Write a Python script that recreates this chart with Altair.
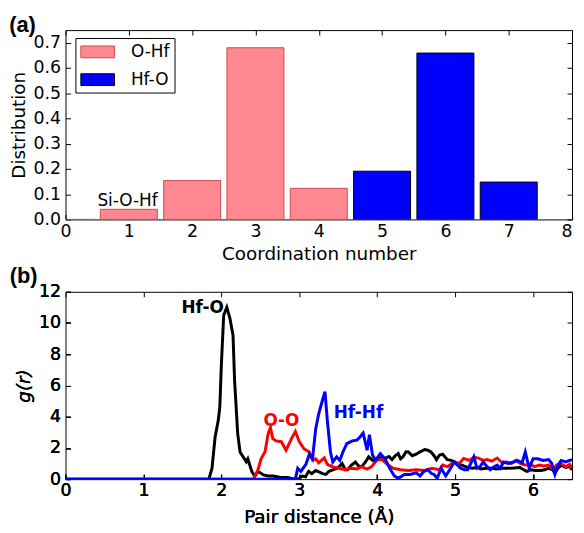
import altair as alt
import pandas as pd

# ---------------- Panel (a): coordination number distribution ----------------
coord_n = [0, 1, 2, 3, 4, 5, 6, 7]
coord_frac = [0.0, 0.040, 0.154, 0.680, 0.123, 0.191, 0.659, 0.148]
coord_type = ["O-Hf", "O-Hf", "O-Hf", "O-Hf", "O-Hf", "Hf-O", "Hf-O", "Hf-O"]
x_ticks_a = [0, 1, 2, 3, 4, 5, 6, 7, 8]
y_ticks_a = [0.0, 0.1, 0.2, 0.3, 0.4, 0.5, 0.6, 0.7]

note_a_text = ["Si-O-Hf"]
note_a_x = [0.98]
note_a_y = [0.074]

# ---------------- Panel (b): pair distribution functions ----------------
hfo_r = [0.0, 1.80, 1.84, 1.88, 1.92, 1.96, 1.98, 2.00, 2.03, 2.07,
         2.11, 2.15, 2.17, 2.21, 2.24, 2.28, 2.32, 2.34, 2.39, 2.43,
         2.47, 2.54, 2.60, 2.66, 2.72, 2.77, 2.85, 2.90, 2.95, 3.00,
         3.04, 3.08, 3.12, 3.16, 3.21, 3.26, 3.30, 3.34, 3.38, 3.43,
         3.49, 3.55, 3.59, 3.62, 3.67, 3.72, 3.76, 3.80, 3.85, 3.89,
         3.93, 3.97, 4.02, 4.06, 4.10, 4.15, 4.19, 4.23, 4.27, 4.30,
         4.33, 4.37, 4.40, 4.45, 4.50, 4.55, 4.61, 4.65, 4.69, 4.73,
         4.76, 4.80, 4.84, 4.90, 4.95, 5.01, 5.06, 5.11, 5.16, 5.22,
         5.28, 5.33, 5.40, 5.47, 5.53, 5.60, 5.67, 5.75, 5.83, 5.88,
         5.92, 5.97, 6.03, 6.10, 6.15, 6.20, 6.25, 6.28, 6.32, 6.36,
         6.42, 6.47, 6.50]
hfo_g = [0.0, 0.0, 0.0, 0.7, 2.7, 3.75, 4.6, 7.3, 10.5, 11.0,
         10.3, 9.2, 6.3, 2.9, 1.74, 1.43, 1.11, 1.3, 0.5, 0.17,
         0.5, 0.27, 0.2, 0.2, 0.15, 0.1, 0.1, 0.05, 0.0, 0.05,
         0.2, 0.15, 0.5, 0.35, 0.55, 0.45, 0.35, 0.3, 0.5, 0.6,
         0.7, 1.0, 0.6, 0.6, 0.9, 1.1, 0.85, 0.8, 1.1, 1.43,
         1.25, 1.1, 1.4, 1.35, 1.33, 1.45, 1.25, 1.5, 1.64, 1.3,
         1.43, 1.75, 1.74, 1.5, 1.6, 1.75, 1.9, 1.85, 1.74, 1.5,
         1.25, 1.55, 1.6, 1.25, 1.2, 1.05, 0.95, 0.85, 0.76, 0.7,
         0.75, 0.65, 0.7, 0.7, 0.65, 0.7, 0.7, 0.72, 0.75, 0.6,
         0.5, 0.6, 0.55, 0.55, 0.6, 0.7, 0.6, 0.4, 0.7, 0.9,
         0.75, 0.8, 0.6]

oo_r = [0.0, 2.41, 2.47, 2.51, 2.56, 2.60, 2.63, 2.66, 2.70, 2.77,
        2.83, 2.90, 2.95, 3.00, 3.06, 3.13, 3.17, 3.21, 3.25, 3.32,
        3.36, 3.42, 3.51, 3.59, 3.66, 3.74, 3.80, 3.87, 3.93, 3.99,
        4.06, 4.14, 4.20, 4.30, 4.40, 4.50, 4.60, 4.70, 4.80, 4.84,
        4.90, 4.99, 5.05, 5.11, 5.18, 5.24, 5.30, 5.36, 5.41, 5.47,
        5.54, 5.60, 5.66, 5.72, 5.78, 5.84, 5.90, 5.96, 6.02, 6.08,
        6.14, 6.20, 6.26, 6.30, 6.36, 6.42, 6.47, 6.50]
oo_g = [0.0, 0.0, 0.6, 1.3, 1.74, 2.9, 3.3, 2.6, 2.45, 2.4,
        1.85, 2.6, 3.05, 2.4, 1.95, 1.74, 1.22, 1.3, 1.05, 1.36,
        0.95, 0.8, 0.7, 0.6, 0.7, 0.65, 0.8, 0.65, 0.8, 1.22,
        1.25, 0.9, 0.7, 0.6, 0.55, 0.6, 0.55, 0.7, 0.6, 0.9,
        0.8, 1.1, 1.0, 1.33, 1.2, 1.4, 1.35, 1.2, 1.25, 1.15,
        1.35, 1.05, 1.1, 1.0, 1.2, 1.0, 0.9, 0.95, 0.8, 0.9,
        0.85, 0.9, 0.6, 0.9, 1.0, 0.8, 0.95, 0.7]

hfhf_r = [0.0, 2.95, 2.98, 3.02, 3.085, 3.13, 3.17, 3.21, 3.25, 3.30,
          3.33, 3.36, 3.40, 3.43, 3.48, 3.52, 3.56, 3.61, 3.68, 3.74,
          3.78, 3.82, 3.87, 3.90, 3.94, 3.98, 4.04, 4.10, 4.16, 4.22,
          4.27, 4.35, 4.42, 4.50, 4.55, 4.60, 4.65, 4.70, 4.73, 4.77,
          4.82, 4.88, 4.93, 4.99, 5.04, 5.07, 5.12, 5.16, 5.20, 5.24,
          5.28, 5.32, 5.36, 5.41, 5.45, 5.50, 5.54, 5.58, 5.62, 5.68,
          5.75, 5.80, 5.86, 5.90, 5.95, 6.00, 6.06, 6.13, 6.20, 6.24,
          6.28, 6.32, 6.36, 6.42, 6.47, 6.50]
hfhf_g = [0.0, 0.0, 0.7, 0.5, 0.95, 1.6, 1.3, 3.2, 4.2, 5.1,
          5.6, 3.75, 1.74, 1.1, 1.43, 1.2, 1.74, 2.27, 2.45, 2.5,
          2.7, 2.95, 1.85, 2.85, 1.54, 1.22, 1.64, 1.3, 0.7, 0.2,
          0.05, 0.3, 0.3, 0.4, 0.2, 0.5, 0.6, 0.35, 0.3, 0.05,
          0.7, 0.2, 0.6, 1.1, 0.85, 0.7, 0.6, 0.6, 1.0, 1.43,
          0.7, 0.8, 1.1, 0.8, 0.6, 0.8, 0.9, 0.7, 1.1, 1.0,
          1.1, 1.2, 1.05, 1.74, 0.7, 1.3, 1.3, 1.2, 1.25, 1.0,
          0.3, 0.9, 1.2, 1.1, 1.2, 1.25]

x_ticks_b = [0, 1, 2, 3, 4, 5, 6]
y_ticks_b = [0, 2, 4, 6, 8, 10, 12]

pair_labels = ["Hf-O", "O-O", "Hf-Hf"]
pair_label_r = [1.76, 2.77, 3.76]
pair_label_g = [10.95, 3.75, 4.25]
pair_colors = ["#000000", "#FF0000", "#0000FF"]

# ---------------- style ----------------
FONT = "DejaVu Sans"
LABEL_SIZE = 17.5
TITLE_SIZE = 18.5
W = 511
HA = 191
HB = 189
TICK_IN = {"expr": "-5"}


def axis(orient, title=None, values=None, fmt=None, labels=True, italic=False, tpad=None, align=None):
    vertical = orient in ("left", "right")
    kw = dict(
        orient=orient,
        values=values,
        labels=labels,
        labelFlush=False,
        domain=False,
        grid=False,
        ticks=True,
        tickSize=TICK_IN,
        tickColor="black",
        tickWidth=1,
        labelFont=FONT,
        labelFontSize=LABEL_SIZE,
        labelColor="black",
        labelPadding=10 if vertical else 8,
        titleFont=FONT,
        titleFontSize=TITLE_SIZE,
        titleFontWeight="normal",
        titleColor="black",
        titlePadding=tpad if tpad is not None else 5,
        title=title,
        labelOverlap=False,
    )
    if fmt:
        kw["format"] = fmt
    if italic:
        kw["titleFontStyle"] = "italic"
    if align is not None:
        kw["labelAlign"] = align
    return alt.Axis(**kw)


def panel_title(text, offset, dx=0):
    return alt.TitleParams(text, anchor="start", frame="bounds", font="Liberation Sans",
                           fontSize=22, fontWeight="bold", color="black", offset=offset, dx=dx)


last_label_right = alt.condition("datum.value == 8", alt.value("right"), alt.value("center"))

# ---------------- panel (a) ----------------
df_a = pd.DataFrame({"n": coord_n, "frac": coord_frac, "kind": coord_type})
xs_a = alt.Scale(domain=[0, 8], nice=False, zero=False)
ys_a = alt.Scale(domain=[0, 0.75], nice=False)

legend_a = alt.Legend(
    title=None, orient="none", legendX=10, legendY=8, direction="vertical",
    strokeColor="black", fillColor="white", padding=5, cornerRadius=0,
    symbolType="M-1,-0.7H3V0.7H-1Z", symbolSize=289, symbolStrokeWidth=1,
    labelFont=FONT, labelFontSize=17, labelColor="black", labelOffset=33,
    rowPadding=11,
)

bars = (
    alt.Chart(df_a)
    .transform_calculate(x0="datum.n - 0.45", x1="datum.n + 0.45")
    .mark_bar(strokeWidth=1, clip=True)
    .encode(
        x=alt.X("x0:Q", scale=xs_a,
                axis=axis("bottom", "Coordination number", x_ticks_a, "d", align=last_label_right)),
        x2="x1:Q",
        y=alt.Y("frac:Q", scale=ys_a, axis=axis("left", "Distribution", y_ticks_a, ".1f")),
        y2=alt.datum(0),
        fill=alt.Fill("kind:N", scale=alt.Scale(domain=["O-Hf", "Hf-O"], range=["#FF8891", "#0000FF"]), legend=legend_a),
        stroke=alt.Stroke("kind:N", scale=alt.Scale(domain=["O-Hf", "Hf-O"], range=["#CC4858", "#000000"]), legend=legend_a),
    )
)

frame_a = (
    alt.Chart(df_a)
    .mark_point(opacity=0)
    .encode(
        x=alt.X("n:Q", scale=xs_a, axis=axis("top", None, x_ticks_a, labels=False)),
        y=alt.Y("frac:Q", scale=ys_a, axis=axis("right", None, y_ticks_a, labels=False)),
    )
)

note_a = (
    alt.Chart(pd.DataFrame({"t": note_a_text, "x": note_a_x, "y": note_a_y}))
    .mark_text(font=FONT, fontSize=17, color="black", baseline="middle", align="center")
    .encode(x=alt.X("x:Q", scale=xs_a, axis=None), y=alt.Y("y:Q", scale=ys_a, axis=None), text="t:N")
)

panel_a = alt.layer(bars, frame_a, note_a).properties(width=W, height=HA, title=panel_title("(a)", -7))

# ---------------- panel (b) ----------------
xs_b = alt.Scale(domain=[0, 6.5], nice=False)
ys_b = alt.Scale(domain=[0, 12], nice=False)


def gr_line(r, g, color):
    d = pd.DataFrame({"r": r, "g": g})
    return alt.Chart(d).mark_line(color=color, strokeWidth=3, clip=True).encode(
        x=alt.X("r:Q", scale=xs_b, axis=axis("bottom", "Pair distance (Å)", x_ticks_b, "d", tpad=8)),
        y=alt.Y("g:Q", scale=ys_b, axis=axis("left", "g(r)", y_ticks_b, "d", italic=True)),
    )


frame_b = (
    alt.Chart(pd.DataFrame({"r": hfo_r, "g": hfo_g}))
    .mark_point(opacity=0)
    .encode(
        x=alt.X("r:Q", scale=xs_b, axis=axis("top", None, x_ticks_b, labels=False)),
        y=alt.Y("g:Q", scale=ys_b, axis=axis("right", None, y_ticks_b, labels=False)),
    )
)

labels_b = (
    alt.Chart(pd.DataFrame({"t": pair_labels, "r": pair_label_r, "g": pair_label_g}))
    .mark_text(font=FONT, fontSize=17, fontWeight="bold", baseline="middle", align="center")
    .encode(
        x=alt.X("r:Q", scale=xs_b, axis=None),
        y=alt.Y("g:Q", scale=ys_b, axis=None),
        text="t:N",
        color=alt.Color("t:N", scale=alt.Scale(domain=pair_labels, range=pair_colors), legend=None),
    )
)

panel_b = alt.layer(
    gr_line(hfo_r, hfo_g, "#000000"),
    gr_line(oo_r, oo_g, "#FF0000"),
    gr_line(hfhf_r, hfhf_g, "#0000FF"),
    frame_b,
    labels_b,
).properties(width=W, height=HB, title=panel_title("(b)", -5, dx=-5))

chart = (
    alt.vconcat(panel_a, panel_b, spacing=0)
    .properties(padding={"left": 0, "top": 3, "right": 0, "bottom": 0})
    .configure(background="white")
    .configure_view(stroke="black", strokeWidth=1)
)

chart.save("out.html", embed_options={"renderer": "svg", "actions": False})
